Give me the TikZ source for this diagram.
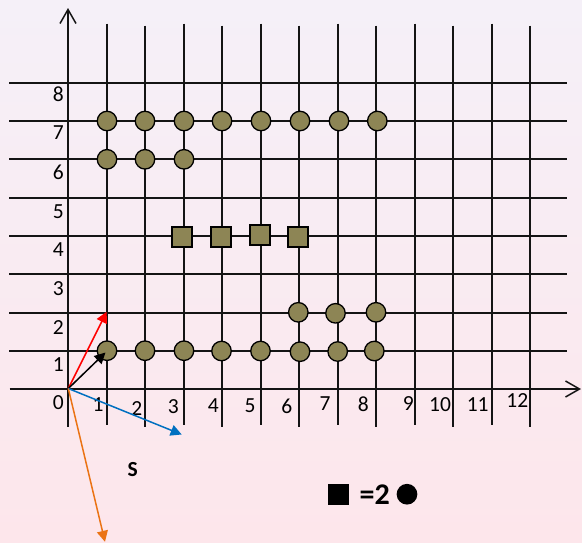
\documentclass[tikz,border=0pt]{standalone}
\usepackage{fontspec}
\setmainfont{Carlito}
\usetikzlibrary{arrows.meta}
\definecolor{dotfill}{RGB}{141,133,85}
\definecolor{bgtop}{RGB}{245,240,248}
\definecolor{bgbot}{RGB}{253,230,235}
\definecolor{vred}{RGB}{255,0,0}
\definecolor{vblue}{RGB}{0,112,192}
\definecolor{vorange}{RGB}{235,115,20}
\definecolor{gridc}{RGB}{20,20,20}
\tikzset{
  gridline/.style={draw=gridc,line width=2pt},
  axisline/.style={draw=gridc,line width=2pt,-{Straight Barb[length=14pt,width=16pt,line width=1.5pt]}},
  dot/.style={circle,minimum size=19.5pt,inner sep=0pt,fill=dotfill,draw=black,line width=1.3pt},
  sq/.style={rectangle,minimum size=20pt,inner sep=0pt,fill=dotfill,draw=black,line width=2pt},
  lab/.style={inner sep=0pt,font=\fontsize{21.5}{24}\selectfont},
  vec/.style={line width=1.5pt,-{Triangle[length=11pt,width=11pt]}},
}
\begin{document}
\begin{tikzpicture}[x=1pt,y=-1pt]
\shade[top color=bgtop,bottom color=bgbot] (0,0) rectangle (582,542);
\useasboundingbox (0,0) rectangle (582,542);
% horizontal grid lines
\foreach \yy in {351,313,274,236,198,159,121,83}{
  \draw[gridline] (9,\yy) -- (567,\yy);
}
% vertical grid lines
\foreach \i/\xx in {1/107,2/145,3/184,4/222,5/261,6/299,7/338,8/376,9/415,10/453,11/492,12/530}{
  \pgfmathsetmacro{\tp}{isodd(\i) ? 23.5 : 25.5}
  \pgfmathsetmacro{\bt}{isodd(\i) ? 425 : 427}
  \draw[gridline] (\xx,\tp) -- (\xx,\bt);
}
% axes
\coordinate (xs) at (9.5,389);
\coordinate (xe) at (581,389);
\coordinate (ys) at (68,426.5);
\coordinate (ye) at (68,8);
\draw[axisline] (xs) -- (xe);
\draw[axisline] (ys) -- (ye);
% y labels
\foreach \k/\yy in {0/402.7,1/364.3,2/327.3,3/288.3,4/249.3,5/211.3,6/172,7/133,8/94.5}{
  \node[lab] (yl\k) at (58.3,\yy) {\k};
}
% x labels
\foreach \i/\xx/\yy in {1/98/405,2/136.7/408.3,3/173.3/406.7,4/213.3/406,5/250/406,6/286.7/406,7/325/404,8/363.3/404,9/408.3/404,10/440/404.3,11/477.7/404.3,12/517.3/401}{
  \node[lab] (xl\i) at (\xx,\yy) {\i};
}
% row 7 circles
\foreach \i/\xx in {1/107,2/145,3/184,4/222,5/261,6/300,7/339,8/377.3}{
  \node[dot] (a\i) at (\xx,121) {};
}
% row 6 circles
\foreach \i/\xx in {1/107,2/145,3/184}{
  \node[dot] (b\i) at (\xx,159.3) {};
}
% squares row 4
\node[sq] (s1) at (182.3,236.7) {};
\node[sq] (s2) at (220.8,236.7) {};
\node[sq] (s3) at (260,234.7) {};
\node[sq] (s4) at (298.3,237.3) {};
% row 2 circles
\node[dot] (c6) at (298.3,312.3) {};
\node[dot] (c7) at (335.5,313.3) {};
\node[dot] (c8) at (376,312.3) {};
% row 1 circles
\foreach \i/\xx/\yy in {1/107/350.7,2/145/350.7,3/184/350.7,4/221.5/351,5/260.5/351,6/300/351.7,7/337.7/351.5,8/374.3/351}{
  \node[dot] (d\i) at (\xx,\yy) {};
}
% vectors
\coordinate (O) at (68.3,388.5);
\coordinate (tr) at (106.7,311.7);
\coordinate (tk) at (105.5,352.5);
\coordinate (tb) at (181.7,434.5);
\coordinate (to) at (105,541.8);
\draw[vec,vred] (O) -- (tr);
\draw[vec,black] (O) -- (tk);
\draw[vec,vblue] (O) -- (tb);
\draw[vec,vorange] (O) -- (to);
% S label
\node[inner sep=0pt,font=\fontsize{21.5}{24}\selectfont\bfseries] (slab) at (132.7,470) {S};
% legend
\node[rectangle,minimum size=21pt,inner sep=0pt,fill=black] (lsq) at (338.8,494.2) {};
\node[inner sep=0pt,font=\fontsize{30}{34}\selectfont\bfseries] (leq) at (374.7,495) {=2};
\node[circle,minimum size=20.7pt,inner sep=0pt,fill=black] (lci) at (407,494.2) {};
\end{tikzpicture}
\end{document}
